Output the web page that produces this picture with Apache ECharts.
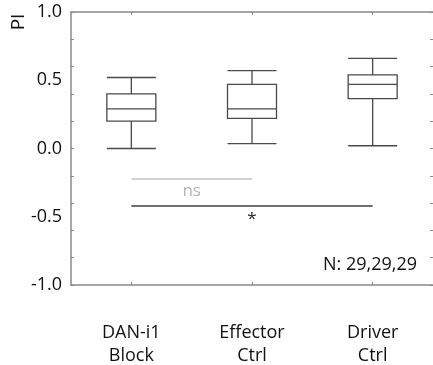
<!DOCTYPE html>
<html>
<head>
<meta charset="utf-8">
<script src="https://cdn.jsdelivr.net/npm/echarts@6/dist/echarts.min.js"></script>
<style>
  html, body { margin: 0; padding: 0; background: #fff; }
  #chart { width: 433px; height: 365px; }
</style>
</head>
<body>
<div id="chart"></div>
<script>
// Groups and their box statistics: [min, Q1, median, Q3, max]
const categories = ['DAN-i1\nBlock', 'Effector\nCtrl', 'Driver\nCtrl'];
const boxStats = [
  [0.00, 0.20, 0.29, 0.40, 0.52],
  [0.035, 0.22, 0.29, 0.47, 0.57],
  [0.02, 0.365, 0.47, 0.54, 0.66]
];
const yTickLabels = [-1.0, -0.5, 0.0, 0.5, 1.0];
// Significance bars: [from group, to group, y level, text]
const sigBars = [
  [0, 1, -0.22, 'ns'],
  [0, 2, -0.42, '*']
];
const sampleSizes = [29, 29, 29];

const FONT = 'Open Sans';
const axisGray = '#8a8a8a';
const boxColor = '#4a4a4a';

const chart = echarts.init(document.getElementById('chart'));

const grid = { left: 71, right: 0, top: 12, bottom: 80, outerBoundsMode: 'none', containLabel: false };

const sigLines = sigBars.map(function (b, i) {
  const col = i === 0 ? '#c4c4c4' : '#404040';
  return [
    {
      coord: [categories[b[0]], b[2]],
      lineStyle: { color: col, width: 1.5, type: 'solid' },
      label: {
        show: true, formatter: b[3], position: 'insideMiddleBottom',
        color: i === 0 ? '#b4b4b4' : '#222', fontFamily: FONT, fontSize: 17,
        distance: i === 0 ? 4 : 5
      }
    },
    { coord: [categories[b[1]], b[2]] }
  ];
});

chart.setOption({
  animation: false,
  textStyle: { fontFamily: FONT },
  grid: grid,
  xAxis: [
    {
      type: 'category', data: categories, position: 'bottom',
      axisLine: { onZero: false, lineStyle: { color: axisGray, width: 1.5 } },
      axisTick: { show: true, alignWithLabel: true, inside: true, length: 3, lineStyle: { color: axisGray } },
      axisLabel: { color: '#111', fontSize: 18, fontFamily: FONT, margin: 36, lineHeight: 23 }
    },
    {
      type: 'category', data: categories, position: 'top',
      axisLine: { onZero: false, lineStyle: { color: axisGray, width: 1.5 } },
      axisTick: { show: true, alignWithLabel: true, inside: true, length: 3, lineStyle: { color: axisGray } },
      axisLabel: { show: false }
    }
  ],
  yAxis: [
    {
      type: 'value', min: -1, max: 1, interval: 0.5, position: 'left',
      axisLine: { show: true, onZero: false, lineStyle: { color: axisGray, width: 1.5 } },
      axisTick: { show: false },
      splitLine: { show: false },
      axisLabel: {
        color: '#111', fontSize: 18, fontFamily: FONT, margin: 9,
        formatter: function (v) { return yTickLabels.indexOf(v) >= 0 ? v.toFixed(1) : ''; }
      }
    },
    {
      type: 'value', min: -1, max: 1, interval: 0.2, position: 'left',
      axisLine: { show: false },
      axisTick: { show: true, inside: true, length: 3, lineStyle: { color: axisGray } },
      axisLabel: { show: false }, splitLine: { show: false }
    },
    {
      type: 'value', min: -1, max: 1, interval: 0.2, position: 'right',
      axisLine: { show: false },
      axisTick: { show: true, inside: true, length: 3, lineStyle: { color: axisGray } },
      axisLabel: { show: false }, splitLine: { show: false }
    }
  ],
  series: [
    {
      type: 'boxplot',
      data: boxStats,
      boxWidth: [49, 49],
      itemStyle: { color: '#fff', borderColor: boxColor, borderWidth: 1.3 },
      markLine: {
        silent: true, symbol: 'none', animation: false,
        data: [
          [
            { coord: [-0.5, 0], lineStyle: { color: axisGray, width: 1.5, type: 'solid' }, label: { show: false } },
            { coord: [2.5, 0] }
          ]
        ].concat(sigLines)
      }
    }
  ],
  graphic: [
    {
      type: 'text', x: 19, y: 22, rotation: Math.PI / 2,
      style: { text: 'PI', font: '19px "' + FONT + '"', fill: '#111', align: 'center', verticalAlign: 'middle' }
    },
    {
      type: 'text', right: 16, top: 256,
      style: { text: 'N: ' + sampleSizes.join(','), font: '18px "' + FONT + '"', fill: '#111' }
    }
  ]
});
</script>
</body>
</html>
